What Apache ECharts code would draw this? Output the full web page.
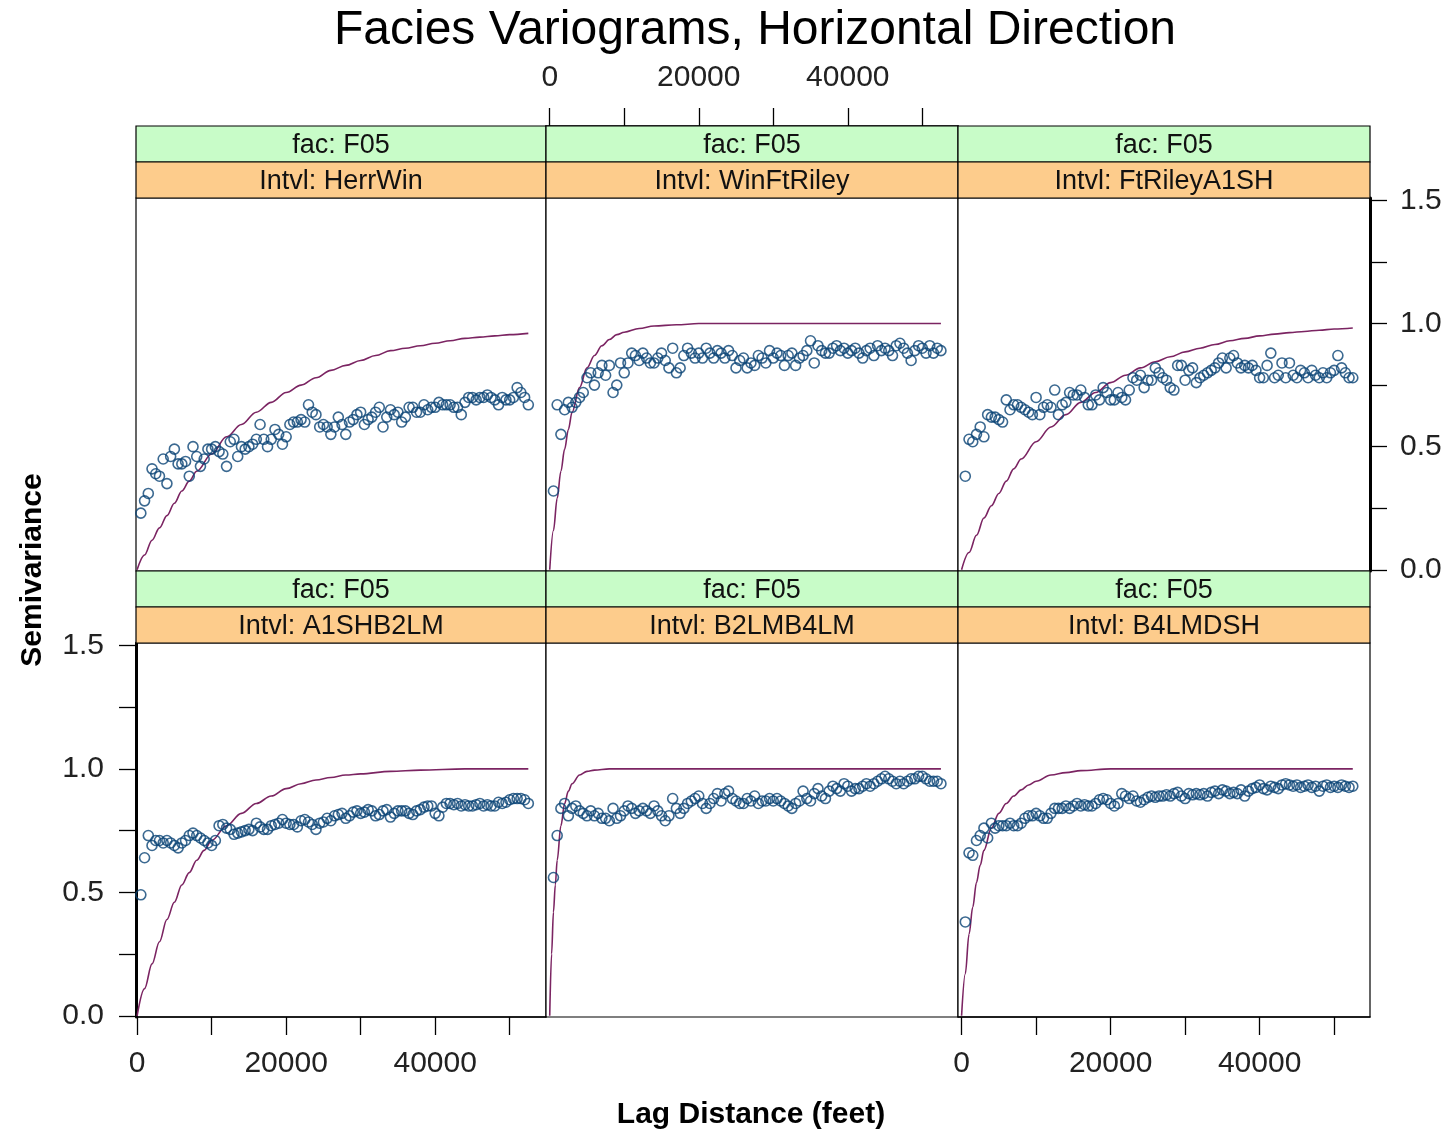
<!DOCTYPE html>
<html>
<head>
<meta charset="utf-8">
<script src="https://cdn.jsdelivr.net/npm/echarts@6/dist/echarts.min.js"></script>
<style>
html,body{margin:0;padding:0;background:#fff;}
#chart{width:1450px;height:1133px;}
</style>
</head>
<body>
<div id="chart"></div>
<script>
// ---------------- DATA ----------------
const chartTitle = 'Facies Variograms, Horizontal Direction';
const xAxisTitle = 'Lag Distance (feet)';
const yAxisTitle = 'Semivariance';
const facLabel = 'fac: F05';
const intervalLabels = ['Intvl: HerrWin', 'Intvl: WinFtRiley', 'Intvl: FtRileyA1SH',
                        'Intvl: A1SHB2LM', 'Intvl: B2LMB4LM', 'Intvl: B4LMDSH'];

const xTickValues = [0, 10000, 20000, 30000, 40000, 50000];
const xTickLabels = [0, 20000, 40000];
const yTickValues = [0, 0.25, 0.5, 0.75, 1.0, 1.25, 1.5];
const yTickLabels = [0, 0.5, 1.0, 1.5];

const lagFeet = [
  500, 1000, 1500, 2000, 2500, 3000, 3500, 4000, 4500, 5000,
  5500, 6000, 6500, 7000, 7500, 8000, 8500, 9000, 9500, 10000,
  10500, 11000, 11500, 12000, 12500, 13000, 13500, 14000, 14500, 15000,
  15500, 16000, 16500, 17000, 17500, 18000, 18500, 19000, 19500, 20000,
  20500, 21000, 21500, 22000, 22500, 23000, 23500, 24000, 24500, 25000,
  25500, 26000, 26500, 27000, 27500, 28000, 28500, 29000, 29500, 30000,
  30500, 31000, 31500, 32000, 32500, 33000, 33500, 34000, 34500, 35000,
  35500, 36000, 36500, 37000, 37500, 38000, 38500, 39000, 39500, 40000,
  40500, 41000, 41500, 42000, 42500, 43000, 43500, 44000, 44500, 45000,
  45500, 46000, 46500, 47000, 47500, 48000, 48500, 49000, 49500, 50000,
  50500, 51000, 51500, 52000, 52500
];

const gammaHerrWin = [
  .23,.28,.31,.41,.39,.38,.45,.35,.46,.49,
  .43,.43,.44,.38,.50,.46,.42,.45,.49,.49,
  .50,.48,.47,.42,.52,.53,.46,.50,.49,.50,
  .51,.53,.59,.53,.50,.53,.57,.55,.51,.54,
  .59,.60,.60,.61,.60,.67,.64,.63,.58,.59,
  .58,.55,.58,.62,.59,.55,.60,.61,.63,.64,
  .59,.61,.62,.64,.66,.58,.62,.65,.63,.64,
  .60,.62,.66,.66,.64,.64,.67,.65,.66,.66,
  .68,.67,.67,.67,.66,.66,.63,.68,.70,.70,
  .69,.70,.70,.71,.70,.69,.67,.70,.69,.69,
  .70,.74,.72,.70,.67
];
const gammaWinFtRiley = [
  .32,.67,.55,.65,.68,.66,.68,.70,.72,.78,
  .80,.75,.80,.83,.79,.83,.72,.75,.84,.80,
  .84,.88,.87,.85,.88,.86,.84,.84,.86,.88,
  .85,.82,.90,.80,.82,.87,.90,.88,.86,.88,
  .86,.90,.88,.86,.89,.88,.86,.89,.87,.82,
  .85,.86,.82,.84,.83,.87,.86,.84,.89,.86,
  .88,.87,.83,.87,.88,.83,.86,.87,.89,.93,
  .84,.91,.89,.88,.88,.90,.91,.89,.90,.88,
  .89,.90,.88,.86,.89,.90,.87,.91,.89,.90,
  .89,.87,.91,.92,.90,.88,.85,.89,.91,.90,
  .88,.91,.88,.90,.89
];
const gammaFtRileyA1SH = [
  .38,.53,.52,.55,.58,.54,.63,.62,.62,.61,
  .60,.69,.65,.67,.67,.66,.65,.64,.63,.70,
  .63,.66,.67,.66,.73,.63,.67,.68,.72,.71,
  .71,.73,.70,.67,.67,.71,.69,.74,.72,.69,
  .69,.72,.70,.69,.73,.78,.77,.79,.74,.77,
  .77,.82,.80,.78,.77,.74,.73,.83,.83,.77,
  .81,.82,.76,.78,.79,.80,.81,.82,.84,.86,
  .82,.86,.87,.84,.82,.83,.82,.83,.81,.78,
  .78,.83,.88,.78,.79,.84,.78,.84,.79,.78,
  .81,.80,.78,.81,.79,.78,.80,.78,.80,.81,
  .87,.82,.80,.78,.78
];
const gammaA1SHB2LM = [
  .49,.64,.73,.69,.71,.71,.70,.71,.70,.69,
  .68,.70,.71,.73,.74,.73,.72,.71,.70,.69,
  .71,.77,.775,.76,.755,.735,.74,.745,.75,.755,
  .75,.78,.765,.755,.755,.77,.775,.78,.795,.78,
  .775,.775,.765,.79,.795,.785,.775,.755,.78,.785,
  .80,.79,.81,.815,.82,.80,.81,.825,.83,.82,
  .825,.835,.83,.81,.815,.83,.835,.805,.82,.83,
  .83,.83,.82,.815,.83,.835,.845,.85,.85,.82,
  .81,.845,.86,.86,.855,.86,.85,.855,.85,.85,
  .855,.86,.85,.855,.85,.85,.865,.86,.865,.875,
  .88,.88,.88,.875,.86
];
const gammaB2LMB4LM = [
  .56,.73,.84,.86,.81,.84,.85,.83,.82,.81,
  .83,.81,.82,.80,.80,.79,.84,.80,.81,.83,
  .85,.84,.82,.83,.84,.83,.82,.85,.83,.81,
  .79,.81,.88,.84,.82,.84,.86,.87,.88,.89,
  .86,.84,.86,.88,.90,.87,.90,.91,.88,.87,
  .86,.86,.88,.87,.89,.86,.87,.87,.88,.87,
  .88,.87,.86,.85,.84,.86,.87,.91,.88,.87,
  .90,.92,.89,.88,.91,.93,.92,.91,.94,.93,
  .91,.92,.92,.93,.94,.93,.94,.95,.96,.97,
  .96,.95,.94,.95,.94,.95,.96,.96,.97,.97,
  .96,.95,.95,.95,.94
];
const gammaB4LMDSH = [
  .38,.66,.65,.71,.73,.76,.72,.78,.76,.77,
  .77,.77,.78,.77,.77,.78,.80,.81,.81,.82,
  .81,.80,.80,.82,.84,.84,.84,.85,.84,.85,
  .86,.85,.855,.85,.85,.86,.875,.88,.875,.86,
  .85,.86,.90,.89,.88,.89,.87,.865,.875,.885,
  .89,.885,.89,.89,.895,.89,.90,.905,.89,.88,
  .90,.895,.90,.895,.90,.89,.905,.91,.90,.915,
  .91,.90,.905,.90,.915,.89,.91,.92,.925,.935,
  .92,.915,.93,.925,.92,.935,.94,.935,.93,.935,
  .925,.93,.935,.925,.93,.91,.93,.935,.925,.93,
  .925,.935,.93,.925,.93
];

// fitted model curves (lag, semivariance)
const modelLagHerrWin = [0,1000,2000,3000,4000,5000,6000,7000,8000,10000,12000,14000,16000,18000,20000,22000,24000,26000,28000,30000,32000,34000,36000,38000,40000,42000,44000,46000,48000,50000,52500];
const modelGammaHerrWin = [0,.06,.12,.17,.22,.27,.32,.36,.40,.47,.54,.59,.64,.68,.72,.75,.78,.81,.83,.85,.87,.89,.90,.91,.92,.93,.94,.945,.95,.955,.96];
const modelLagWinFtRiley = [0,500,1000,1500,2000,2500,3000,4000,5000,6000,7000,8000,9000,10000,12000,14000,17000,20000,52500];
const modelGammaWinFtRiley = [0,.16,.29,.40,.49,.57,.64,.74,.82,.87,.91,.935,.955,.965,.98,.99,.995,1.0,1.0];
const modelLagFtRileyA1SH = [0,1000,2000,3000,4000,5000,6000,7000,8000,10000,12000,14000,16000,18000,20000,22000,24000,26000,28000,30000,32000,34000,36000,38000,40000,42000,44000,46000,48000,50000,52500];
const modelGammaFtRileyA1SH = [0,.07,.14,.21,.26,.31,.36,.41,.45,.52,.58,.63,.68,.72,.76,.79,.82,.845,.865,.885,.90,.915,.93,.94,.95,.957,.963,.968,.973,.978,.982];
const modelLagA1SHB2LM = [0,1000,2000,3000,4000,5000,6000,7000,8000,9000,10000,12000,14000,16000,18000,20000,22000,24000,26000,28000,30000,34000,38000,44000,52500];
const modelGammaA1SHB2LM = [0,.11,.21,.30,.39,.46,.53,.58,.63,.67,.71,.77,.82,.86,.89,.92,.94,.955,.965,.975,.98,.99,.995,1.0,1.0];
const modelLagB2LMB4LM = [0,250,500,750,1000,1500,2000,2500,3000,4000,5000,6000,8000,52500];
const modelGammaB2LMB4LM = [0,.25,.42,.53,.63,.77,.86,.91,.94,.975,.99,.995,1.0,1.0];
const modelLagB4LMDSH = [0,500,1000,1500,2000,2500,3000,4000,5000,6000,7000,8000,9000,10000,12000,14000,16000,20000,52500];
const modelGammaB4LMDSH = [0,.17,.33,.44,.54,.61,.67,.76,.82,.86,.89,.915,.935,.95,.975,.985,.993,1.0,1.0];

// ---------------- LAYOUT ----------------
const FONT = '"Liberation Sans", Arial, sans-serif';
const colLeft = [136, 546, 958];
const colWidth = [410, 412, 412];
const colXMin = [-150, -500, -480];
const ftPerPx = 134.2;
const rowTop = [198, 643];
const rowHeight = [373, 374];
const stripH = 36;

const panels = [
  {row:0,col:0,label:intervalLabels[0],pts:gammaHerrWin,mx:modelLagHerrWin,my:modelGammaHerrWin,xPos:null,yPos:null},
  {row:0,col:1,label:intervalLabels[1],pts:gammaWinFtRiley,mx:modelLagWinFtRiley,my:modelGammaWinFtRiley,xPos:'top',yPos:null},
  {row:0,col:2,label:intervalLabels[2],pts:gammaFtRileyA1SH,mx:modelLagFtRileyA1SH,my:modelGammaFtRileyA1SH,xPos:null,yPos:'right'},
  {row:1,col:0,label:intervalLabels[3],pts:gammaA1SHB2LM,mx:modelLagA1SHB2LM,my:modelGammaA1SHB2LM,xPos:'bottom',yPos:'left'},
  {row:1,col:1,label:intervalLabels[4],pts:gammaB2LMB4LM,mx:modelLagB2LMB4LM,my:modelGammaB2LMB4LM,xPos:null,yPos:null},
  {row:1,col:2,label:intervalLabels[5],pts:gammaB4LMDSH,mx:modelLagB4LMDSH,my:modelGammaB4LMDSH,xPos:'bottom',yPos:null}
];

const option = {
  animation: false,
  backgroundColor: '#ffffff',
  grid: [], xAxis: [], yAxis: [], series: [], graphic: []
};

panels.forEach((p, i) => {
  const left = colLeft[p.col], w = colWidth[p.col];
  const top = rowTop[p.row], h = rowHeight[p.row];
  option.grid.push({left: left, top: top, width: w, height: h, show: true,
    borderColor: '#000', borderWidth: 1.2, backgroundColor: '#fff'});

  const xMin = colXMin[p.col];
  const xa = {gridIndex: i, type: 'value', min: xMin, max: xMin + w * ftPerPx,
    splitLine: {show: false}, show: !!p.xPos};
  if (p.xPos) {
    xa.position = p.xPos;
    xa.offset = p.xPos === 'top' ? stripH * 2 : 0;
    xa.axisLine = {show: true, onZero: false, lineStyle: {color: '#000', width: p.xPos === 'top' ? 2.5 : 1.5}};
    xa.axisTick = {show: true, inside: false, length: 18, customValues: xTickValues,
      lineStyle: {color: '#000', width: 1.3}};
    xa.axisLabel = {show: true, customValues: xTickLabels, fontSize: 30, fontFamily: FONT,
      color: '#222', margin: p.xPos === 'top' ? 33 : 32, formatter: v => String(v)};
  }
  option.xAxis.push(xa);

  const ya = {gridIndex: i, type: 'value', min: -0.005, max: 1.51,
    splitLine: {show: false}, show: !!p.yPos};
  if (p.yPos) {
    ya.position = p.yPos;
    ya.axisLine = {show: true, onZero: false, lineStyle: {color: '#000', width: 3}};
    ya.axisTick = {show: true, inside: false, length: 17, customValues: yTickValues,
      lineStyle: {color: '#000', width: 1.3}};
    ya.axisLabel = {show: true, customValues: yTickLabels, fontSize: 30, fontFamily: FONT,
      color: '#222', margin: p.yPos === 'left' ? 32 : 30, formatter: v => v.toFixed(1)};
  }
  option.yAxis.push(ya);

  option.series.push({
    type: 'line', xAxisIndex: i, yAxisIndex: i, showSymbol: false, symbol: 'none',
    smooth: 0.35, smoothMonotone: 'x', silent: true, z: 2,
    lineStyle: {color: '#7b2462', width: 1.6},
    data: p.mx.map((x, k) => [x, p.my[k]])
  });
  option.series.push({
    type: 'scatter', xAxisIndex: i, yAxisIndex: i, symbol: 'circle', symbolSize: 10,
    silent: true, z: 3,
    itemStyle: {color: 'rgba(255,255,255,0)', borderColor: '#0a4475', borderWidth: 1.6},
    data: lagFeet.map((x, k) => [x, p.pts[k]])
  });

  // strips
  const gTop = top - 2 * stripH;
  option.graphic.push(
    {type: 'rect', z: 10, shape: {x: left, y: gTop, width: w, height: stripH},
     style: {fill: '#c8fcc8', stroke: '#000', lineWidth: 1.2}},
    {type: 'rect', z: 10, shape: {x: left, y: gTop + stripH, width: w, height: stripH},
     style: {fill: '#fdcc8c', stroke: '#000', lineWidth: 1.2}},
    {type: 'text', z: 11, style: {text: facLabel, x: left + w / 2, y: gTop + stripH / 2 + 2,
     align: 'center', verticalAlign: 'middle', font: '27px ' + FONT, fill: '#111'}},
    {type: 'text', z: 11, style: {text: p.label, x: left + w / 2, y: gTop + stripH * 1.5 + 2,
     align: 'center', verticalAlign: 'middle', font: '27px ' + FONT, fill: '#111'}}
  );
});

option.graphic.push(
  {type: 'text', z: 11, style: {text: chartTitle, x: 755, y: 31, align: 'center',
    verticalAlign: 'middle', font: '48px ' + FONT, fill: '#000'}},
  {type: 'text', z: 11, style: {text: xAxisTitle, x: 751, y: 1115, align: 'center',
    verticalAlign: 'middle', font: 'bold 30px ' + FONT, fill: '#000'}},
  {type: 'text', z: 11, x: 33, y: 570, rotation: Math.PI / 2,
    style: {text: yAxisTitle, x: 0, y: 0, align: 'center',
    verticalAlign: 'middle', font: 'bold 30px ' + FONT, fill: '#000'}}
);

const chart = echarts.init(document.getElementById('chart'), null, {renderer: 'canvas'});
chart.setOption(option);
</script>
</body>
</html>
